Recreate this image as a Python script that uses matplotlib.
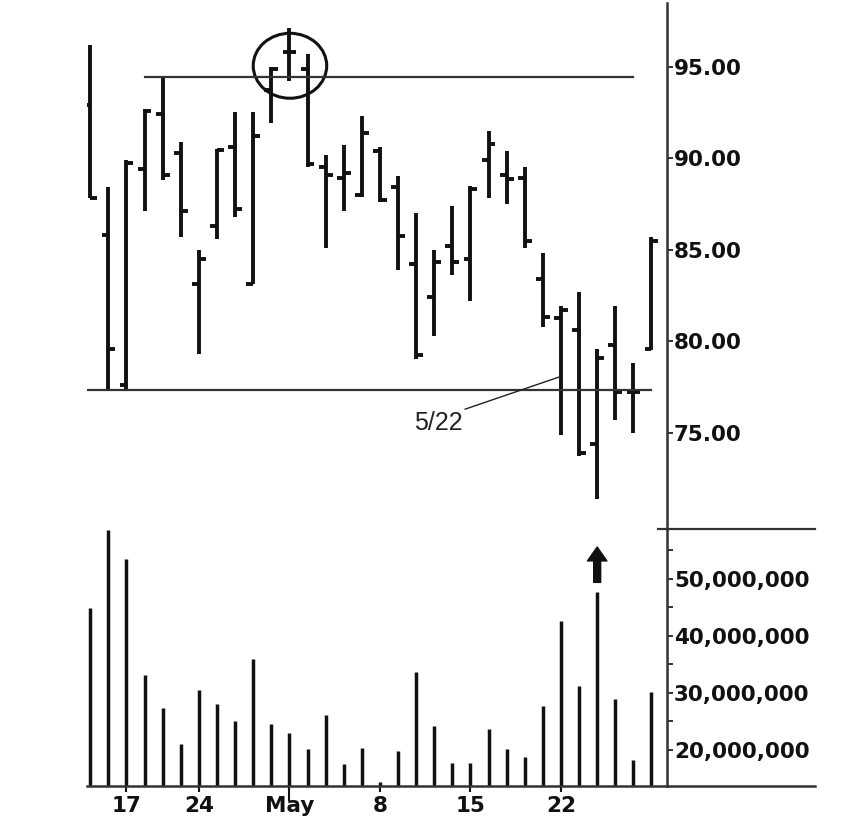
import matplotlib
matplotlib.use("Agg")
import matplotlib.pyplot as plt
from matplotlib.patches import Ellipse
from matplotlib.ticker import FixedLocator, FuncFormatter
import numpy as np

# Daily bars, one per trading day (Apr 13 .. May 30)
opens = [92.9, 85.8, 77.6, 89.4, 92.4, 90.3, 83.1, 86.3, 90.6, 83.1, 93.7, 95.8,
         94.9, 89.5, 88.9, 88.0, 90.4, 88.4, 84.2, 82.4, 85.2, 84.5, 89.9, 89.1,
         88.9, 83.4, 81.25, 80.6, 74.4, 79.8, 77.2, 79.6]
highs = [96.2, 88.4, 89.9, 92.7, 94.4, 90.9, 85.0, 90.5, 92.5, 92.5, 95.0, 97.1,
         95.7, 90.2, 90.7, 92.3, 90.6, 89.0, 87.0, 85.0, 87.4, 88.5, 91.5, 90.4,
         89.5, 84.8, 81.9, 82.7, 79.6, 81.9, 78.8, 85.7]
lows = [87.8, 77.3, 77.3, 87.1, 88.8, 85.7, 79.3, 85.6, 86.8, 83.1, 91.9, 94.2,
        89.5, 85.1, 87.1, 87.9, 87.6, 83.9, 79.0, 80.3, 83.6, 82.2, 87.8, 87.5,
        85.1, 80.8, 74.9, 73.7, 71.4, 75.7, 75.0, 79.5]
closes = [87.8, 79.6, 89.75, 92.6, 89.1, 87.1, 84.5, 90.45, 87.2, 91.2, 94.9, 95.8,
          89.7, 89.1, 89.2, 91.4, 87.7, 85.75, 79.25, 84.3, 84.3, 88.3, 90.8, 88.85,
          85.5, 81.3, 81.7, 73.9, 79.1, 77.2, 77.2, 85.5]
volume_m = [44.9, 58.6, 53.5, 33.2, 27.3, 21.0, 30.5, 28.1, 25.1, 35.9, 24.5, 22.9,
            20.1, 26.1, 17.5, 20.4, 14.3, 19.8, 33.7, 24.2, 17.8, 17.8, 23.6, 20.1,
            18.8, 27.7, 42.7, 31.2, 47.7, 28.9, 18.2, 30.2]

date_ticks = [2, 6, 11, 16, 21, 26]
date_labels = ['17', '24', 'May', '8', '15', '22']
price_ticks = [75, 80, 85, 90, 95]
vol_ticks = [20e6, 30e6, 40e6, 50e6]
vol_minor = [25e6, 35e6, 45e6, 55e6]

resistance = 94.42
support = 77.32

x = np.arange(len(opens))
vol = np.array(volume_m) * 1e6
ink = '#111111'
label_font = dict(family='DejaVu Sans', weight='bold', size=15.5)

fig = plt.figure(figsize=(8.54, 8.30), dpi=100)
ax = fig.add_axes([0.1019, 0.3627, 0.6792, 0.6337])
ax2 = fig.add_axes([0.1019, 0.0530, 0.6792, 0.3097], sharex=ax)

# price bars
tw = 0.38
ax.vlines(x, lows, highs, color=ink, lw=2.8)
ax.hlines(opens, x - tw, x, color=ink, lw=2.8)
ax.hlines(closes, x, x + tw, color=ink, lw=2.8)

ax.plot([3, 30], [resistance, resistance], color='#333333', lw=1.6)
ax.plot([-0.15, 31.0], [support, support], color='#333333', lw=1.6)

ax.add_patch(Ellipse((11.03, 95.05), 4.06, 3.55, fill=False, lw=2.2, color=ink))

ax.annotate('5/22', xy=(25.95, 78.06), xytext=(19.2, 75.53),
            ha='center', va='center', fontsize=18, color='#222222',
            family=['Liberation Sans Narrow', 'Liberation Sans'],
            arrowprops=dict(arrowstyle='-', lw=1.0, color='#222222',
                            relpos=(0.95, 1.0), shrinkA=0, shrinkB=0))

ax.set_xlim(-0.18, 31.86)
ax.set_ylim(69.74, 98.48)
ax.yaxis.tick_right()
ax.set_yticks(price_ticks)
ax.set_yticklabels([f'{p:.2f}' for p in price_ticks], **label_font)
ax.tick_params(axis='y', direction='out', length=4, width=1.2, pad=1, colors=ink)
ax.tick_params(axis='x', bottom=False, labelbottom=False)
for s in ['top', 'left', 'bottom']:
    ax.spines[s].set_visible(False)
ax.spines['right'].set_linewidth(1.8)
ax.spines['right'].set_color('#333333')

# volume
ax2.vlines(x, 0, vol, color=ink, lw=2.5)
ax2.annotate('', xy=(28, 55.6e6), xytext=(28, 49.4e6),
             arrowprops=dict(arrowstyle='simple,head_length=0.5,head_width=0.7,tail_width=0.25',
                             mutation_scale=20, color=ink, shrinkA=0, shrinkB=0))
ax2.set_ylim(13.68e6, 58.77e6)
ax2.yaxis.tick_right()
ax2.set_yticks(vol_ticks)
ax2.yaxis.set_minor_locator(FixedLocator(vol_minor))
ax2.yaxis.set_major_formatter(FuncFormatter(lambda v, p: f'{v:,.0f}'))
for lab in ax2.get_yticklabels():
    lab.set_fontfamily('DejaVu Sans')
    lab.set_fontweight('bold')
    lab.set_fontsize(15.5)
ax2.tick_params(axis='y', which='both', direction='out', length=4, width=1.2, pad=1, colors=ink)

ax2.set_xticks(date_ticks)
ax2.set_xticklabels(date_labels, **label_font)
ax2.tick_params(axis='x', direction='out', length=4, width=1.5, pad=3, colors=ink)
ax2.xaxis.get_major_ticks()[2].tick1line.set_markersize(11)
for s in ['top', 'left']:
    ax2.spines[s].set_visible(False)
for s in ['right', 'bottom']:
    ax2.spines[s].set_linewidth(1.8)
    ax2.spines[s].set_color('#333333')

# lines that run out past the price scale
ax2.plot([1.0, 1.255], [0, 0], transform=ax2.transAxes, clip_on=False, color='#333333', lw=1.8)
ax2.plot([0.985, 1.255], [1, 1], transform=ax2.transAxes, clip_on=False, color='#333333', lw=1.6)

fig.savefig('out.png', dpi=100, facecolor='white')
